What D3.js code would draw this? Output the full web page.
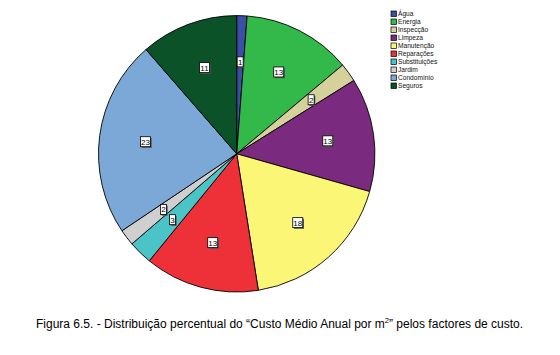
<!DOCTYPE html>
<html><head><meta charset="utf-8">
<script src="https://cdn.jsdelivr.net/npm/d3@7"></script>
<style>body{margin:0;background:#fff}svg{display:block}</style>
</head><body>
<svg id="c" width="560" height="355"></svg>
<script>
const categories = ["Água","Energia","Inspecção","Limpeza","Manutenção","Reparações","Substituições","Jardim","Condomínio","Seguros"];
const values = [1.2, 12.7, 2.2, 13.3, 18.1, 13.4, 2.8, 1.9, 23.0, 11.4];
const labels = ["1","13","2","13","18","13","3","2","23","11"];
const colors = ["#3a4fa6","#33b84a","#d5d19b","#7b2b7f","#fbf675","#ee3039","#4bc4c7","#cfcfcf","#7ca8d7","#0b5229"];
const title = "Figura 6.5. - Distribuição percentual do “Custo Médio Anual por m";
const titleEnd = "” pelos factores de custo.";

const svg = d3.select("#c");
const cx = 236.7, cy = 153.8, r = 138.2;
const data = categories.map((c,i)=>({name:c, value:values[i], label:labels[i], color:colors[i]}));
const pie = d3.pie().value(d=>d.value).sort(null);
const arcs = pie(data);
const arc = d3.arc().innerRadius(0).outerRadius(r);
const labArc = d3.arc().innerRadius(92).outerRadius(92);
const g = svg.append("g").attr("transform",`translate(${cx},${cy})`);
g.selectAll("path").data(arcs).join("path")
  .attr("d",arc).attr("fill",d=>d.data.color)
  .attr("stroke","#000").attr("stroke-width",0.9).attr("stroke-linejoin","round");

const lg = g.selectAll("g.lab").data(arcs).join("g").attr("class","lab")
  .attr("transform",d=>`translate(${labArc.centroid(d)})`);
lg.each(function(d){
  const s = d3.select(this);
  const w = d.data.label.length===1 ? 6 : 10, h = 10;
  s.append("rect").attr("x",-w/2+1.2).attr("y",-h/2+1.2).attr("width",w).attr("height",h).attr("fill","#555");
  s.append("rect").attr("x",-w/2).attr("y",-h/2).attr("width",w).attr("height",h)
    .attr("fill","#fff").attr("stroke","#000").attr("stroke-width",0.8);
  s.append("text").attr("text-anchor","middle").attr("y",3)
    .attr("font-family","Liberation Sans, Arial, sans-serif").attr("font-size",8)
    .attr("fill","#000").text(d.data.label);
});

const leg = svg.append("g").attr("transform","translate(391,11)");
const li = leg.selectAll("g").data(data).join("g").attr("transform",(d,i)=>`translate(0,${i*8})`);
li.append("rect").attr("width",5.5).attr("height",5.5).attr("fill",d=>d.color).attr("stroke","#000").attr("stroke-width",0.7);
li.append("text").attr("x",7).attr("y",5.3)
  .attr("font-family","Liberation Sans, Arial, sans-serif").attr("font-size",6.6).attr("fill","#111").text(d=>d.name);

const t = svg.append("text").attr("x",36).attr("y",328)
  .attr("font-family","Liberation Sans, Arial, sans-serif").attr("font-size",12).attr("fill","#000");
t.append("tspan").text(title);
t.append("tspan").attr("dy",-5).attr("font-size",7.5).text("2");
t.append("tspan").attr("dy",5).text(titleEnd);
</script>
</body></html>
